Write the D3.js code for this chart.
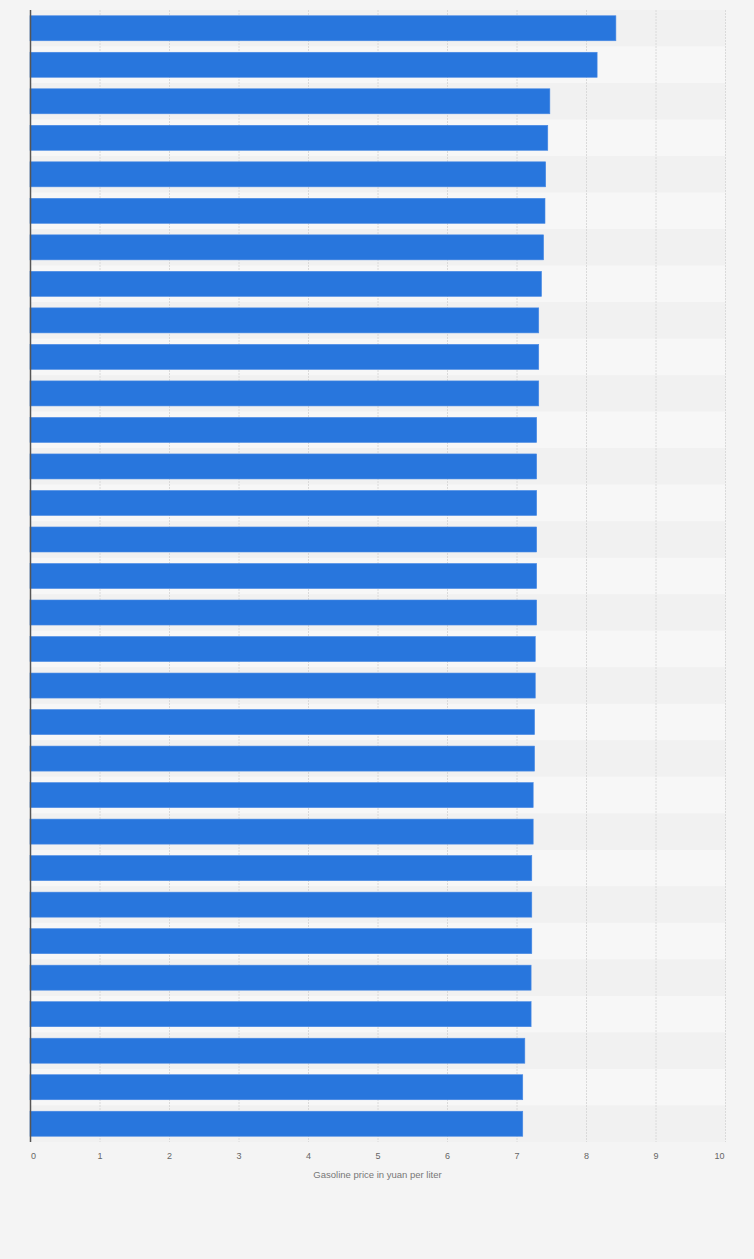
<!DOCTYPE html>
<html>
<head>
<meta charset="utf-8">
<script src="https://cdn.jsdelivr.net/npm/d3@7"></script>
<style>
    html, body { margin: 0; padding: 0; background: #f4f4f4; }
    svg { display: block; }
    text { font-family: "Liberation Sans", Arial, sans-serif; }
</style>
</head>
<body>
<div id="chart"></div>
<script>
// data: 31 rows, category names are not shown on the chart
var rows = d3.range(1, 32).map(function(d) { return 'Row ' + d; });
var prices = [
    8.43, 8.16, 7.48, 7.45, 7.42, 7.41, 7.39, 7.36, 7.32, 7.32, 7.32,
    7.29, 7.29, 7.29, 7.29, 7.29, 7.29, 7.27, 7.27, 7.26, 7.26,
    7.24, 7.24, 7.22, 7.22, 7.22, 7.21, 7.21, 7.12, 7.09, 7.09
];
var xTicks = [0, 1, 2, 3, 4, 5, 6, 7, 8, 9, 10];
var xTitle = 'Gasoline price in yuan per liter';

(function() {
    var W = 754, H = 1259;
    var margin = { left: 30, right: 29, top: 10, bottom: 117 };
    var width = W - margin.left - margin.right,
        height = H - margin.top - margin.bottom;

    var svg = d3.select('#chart').append('svg')
        .attr('width', W)
        .attr('height', H);

    var g = svg.append('g')
        .attr('transform', 'translate(' + margin.left + ',' + margin.top + ')');

    var x = d3.scaleLinear()
        .domain([0, 10])
        .range([0, width]);

    var y = d3.scaleBand()
        .domain(rows)
        .range([0, height])
        .padding(0);

    var barH = y.bandwidth() * 0.685;

    // alternating row bands
    g.selectAll('rect.band')
        .data(rows)
        .enter().append('rect')
            .attr('class', 'band')
            .attr('x', 0)
            .attr('y', function(d) { return y(d); })
            .attr('width', width)
            .attr('height', y.bandwidth())
            .attr('fill', function(d, i) { return i % 2 ? '#f7f7f7' : '#f1f1f1'; });

    // grid lines
    g.selectAll('line.grid')
        .data(xTicks.slice(1))
        .enter().append('line')
            .attr('class', 'grid')
            .attr('x1', function(d) { return x(d) + 0.5; })
            .attr('x2', function(d) { return x(d) + 0.5; })
            .attr('y1', 0)
            .attr('y2', height)
            .attr('stroke', '#dadada')
            .attr('stroke-width', 1)
            .attr('stroke-dasharray', '2,1');

    // bars
    g.selectAll('rect.bar')
        .data(prices)
        .enter().append('rect')
            .attr('class', 'bar')
            .attr('x', 0)
            .attr('y', function(d, i) { return y(rows[i]) + (y.bandwidth() - barH) / 2; })
            .attr('width', function(d) { return x(d); })
            .attr('height', barH)
            .attr('fill', '#2876dd')
            .attr('stroke', '#4a8ae4')
            .attr('stroke-width', 0.6);

    // left axis line
    g.append('line')
        .attr('x1', 0.5).attr('x2', 0.5)
        .attr('y1', 0).attr('y2', height)
        .attr('stroke', '#555')
        .attr('stroke-width', 1.5);

    // x axis labels
    var xAxis = d3.axisBottom(x)
        .tickValues(xTicks)
        .tickSize(0)
        .tickPadding(0);

    var axisG = g.append('g')
        .attr('transform', 'translate(0,' + (height + 11) + ')')
        .call(xAxis);
    axisG.select('.domain').remove();
    axisG.selectAll('text')
        .attr('font-family', '"Liberation Sans", Arial, sans-serif')
        .attr('font-size', '9px')
        .attr('fill', '#666')
        .attr('dx', function(d) { return d === 0 ? 3 : (d === 10 ? -6 : 0); });

    // x axis title
    g.append('text')
        .attr('x', width / 2)
        .attr('y', height + 36)
        .attr('text-anchor', 'middle')
        .attr('font-size', '9.5px')
        .attr('fill', '#777')
        .text(xTitle);
}());
</script>
</body>
</html>
